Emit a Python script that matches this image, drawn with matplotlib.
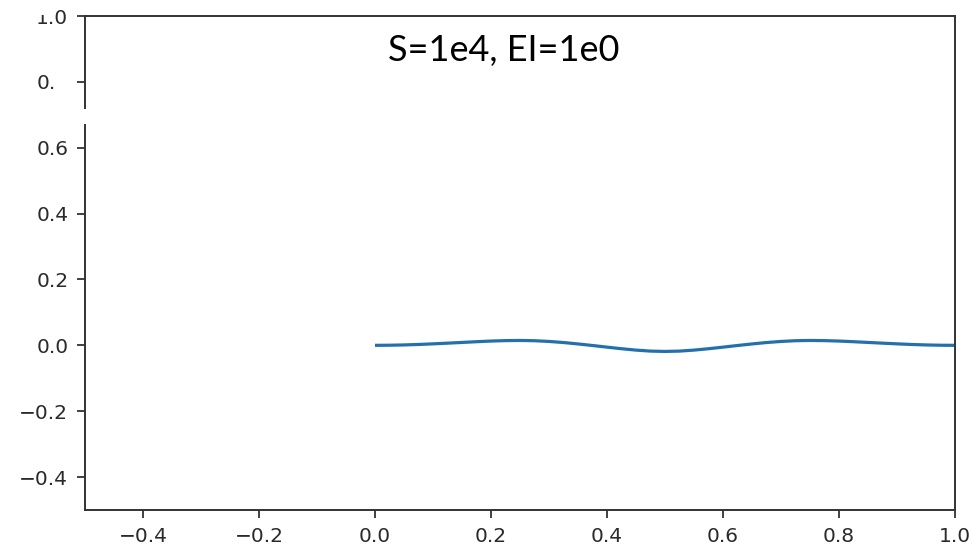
import matplotlib.pyplot as plt
from matplotlib.patches import Rectangle

# beam deflection
x_pos = [0.000, 0.025, 0.050, 0.075, 0.100, 0.125, 0.150, 0.175, 0.200, 0.225,
         0.250, 0.275, 0.300, 0.325, 0.350, 0.375, 0.400, 0.425, 0.450, 0.475,
         0.500, 0.525, 0.550, 0.575, 0.600, 0.625, 0.650, 0.675, 0.700, 0.725,
         0.750, 0.775, 0.800, 0.825, 0.850, 0.875, 0.900, 0.925, 0.950, 0.975, 1.000]
deflection = [0.0, 0.0003, 0.0012, 0.0026, 0.0045, 0.0066, 0.0088, 0.0110, 0.0130, 0.0143,
              0.0148, 0.0140, 0.0118, 0.0085, 0.0042, -0.0005, -0.0055, -0.0103, -0.0145, -0.0175,
              -0.0185, -0.0175, -0.0145, -0.0103, -0.0055, -0.0005, 0.0042, 0.0085, 0.0118, 0.0140,
              0.0148, 0.0143, 0.0130, 0.0110, 0.0088, 0.0066, 0.0045, 0.0026, 0.0012, 0.0003, 0.0]
x_ticks = [-0.4, -0.2, 0.0, 0.2, 0.4, 0.6, 0.8, 1.0]
y_ticks = [-0.4, -0.2, 0.0, 0.2, 0.4, 0.6, 0.8, 1.0]
label = "S=1e4, EI=1e0"

W, H = 979, 547
fig = plt.figure(figsize=(W / 100, H / 100), dpi=100)
ax = fig.add_axes([85 / W, 1 - 510 / H, 870 / W, 494 / H])
ax.plot(x_pos, deflection, color="#2470ad", lw=2.3, solid_capstyle="butt")
ax.set_xlim(-0.5, 1.0)
ax.set_ylim(-0.5, 1.0)
ax.set_xticks(x_ticks)
ax.set_yticks(y_ticks)
ax.tick_params(labelsize=14.5, length=6, width=1.3, pad=6,
               color="#333333", labelcolor="#2a2a2a")
for s in ax.spines.values():
    s.set_linewidth(1.4)
    s.set_color("#333333")


def mask(x0, y0, w, h):
    # white patches from the pasted screenshot, in figure pixels
    fig.patches.append(Rectangle((x0 / W, 1 - (y0 + h) / H), w / W, h / H,
                                 transform=fig.transFigure, facecolor="white",
                                 edgecolor="none", zorder=10))


mask(28, 0, 19, 15)
mask(55, 62, 19, 36)
mask(78, 109, 14, 15)

fig.text(504 / W, 1 - 50 / H, label, ha="center", va="center",
         fontsize=26, family=["Lato", "DejaVu Sans"], color="black", zorder=11)

fig.savefig("out.png", dpi=100)
